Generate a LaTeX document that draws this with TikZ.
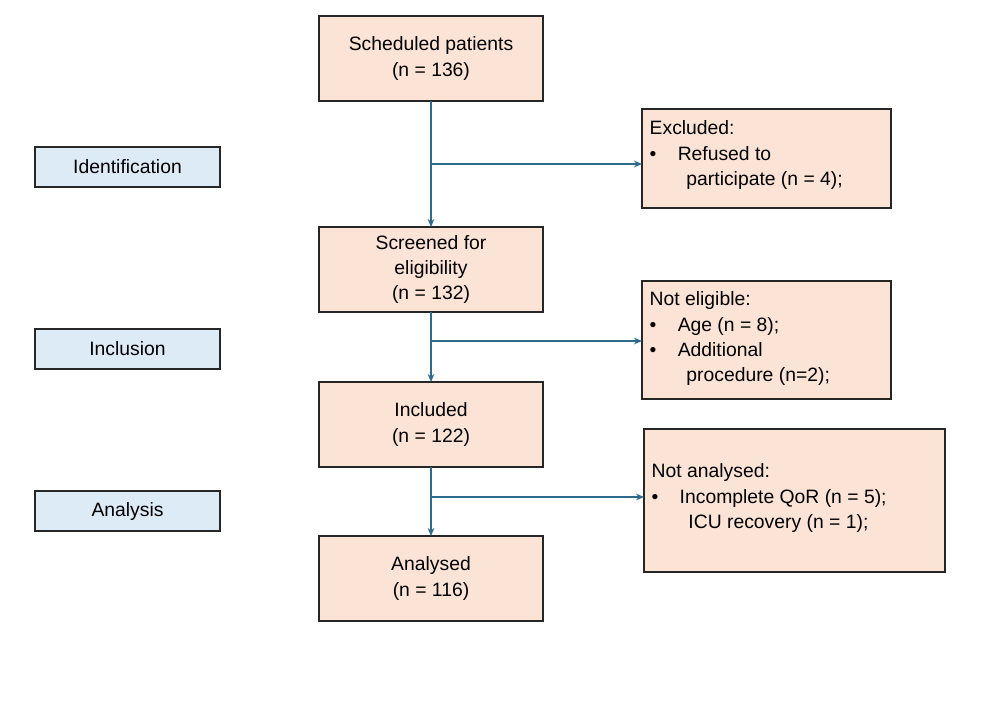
\documentclass[tikz,border=0pt]{standalone}
\usepackage{fontspec}
\setmainfont{Liberation Sans}
\usetikzlibrary{arrows.meta}
\definecolor{peach}{HTML}{FBE3D6}
\definecolor{lblue}{HTML}{DDEBF7}
\definecolor{arr}{HTML}{2F6A8C}
\begin{document}
\begin{tikzpicture}[x=0.75pt,y=-0.75pt,
  every node/.style={font=\fontsize{14.5}{19}\selectfont},
  box/.style={draw=black!85,line width=1pt,fill=peach},
  side/.style={draw=black!85,line width=1pt,fill=lblue},
  con/.style={draw=arr,line width=1pt,-{Stealth[length=6pt,width=5pt]}}]
\useasboundingbox (0,0) rectangle (986,711);
\draw[box] (319,16) rectangle (543,101); \node[align=center] (a) at (431,58.5) {Scheduled patients\\(n = 136)};
\draw[box] (319,227) rectangle (543,312); \node[align=center] (b) at (431,269.5) {Screened for\\eligibility\\(n = 132)};
\draw[box] (319,382) rectangle (543,467); \node[align=center] (c) at (431,424.5) {Included\\(n = 122)};
\draw[box] (319,536) rectangle (543,621); \node[align=center] (d) at (431,578.5) {Analysed\\(n = 116)};
\draw[box] (642,109) rectangle (891,208);
\node[anchor=north west,align=left] (e) at (645,116) {Excluded:\\ \textbullet\hspace{1.1em}Refused to\\ \hspace{1.9em}participate (n = 4);};
\draw[box] (642,281) rectangle (891,399);
\node[anchor=north west,align=left] (f) at (645,287) {Not eligible:\\ \textbullet\hspace{1.1em}Age (n = 8);\\ \textbullet\hspace{1.1em}Additional\\ \hspace{1.9em}procedure (n=2);};
\draw[box] (644,429) rectangle (945,572);
\node[anchor=north west,align=left] (g) at (647,459) {Not analysed:\\ \textbullet\hspace{1.1em}Incomplete QoR (n = 5);\\ \hspace{1.9em}ICU recovery (n = 1);};
\draw[side] (35,147) rectangle (220,187); \node (i1) at (127.5,167) {Identification};
\draw[side] (35,329) rectangle (220,369); \node (i2) at (127.5,349) {Inclusion};
\draw[side] (35,491) rectangle (220,531); \node (i3) at (127.5,511) {Analysis};
\coordinate (a1) at (431,101); \coordinate (b0) at (431,227);
\coordinate (b1) at (431,312); \coordinate (c0) at (431,382);
\coordinate (c1) at (431,467); \coordinate (d0) at (431,536);
\draw[con] (a1) -- (b0); \draw[con] (b1) -- (c0); \draw[con] (c1) -- (d0);
\coordinate (s1) at (431,164); \coordinate (t1) at (642,164);
\coordinate (s2) at (431,341); \coordinate (t2) at (642,341);
\coordinate (s3) at (431,497); \coordinate (t3) at (644,497);
\draw[con] (s1) -- (t1); \draw[con] (s2) -- (t2); \draw[con] (s3) -- (t3);
\end{tikzpicture}
\end{document}
